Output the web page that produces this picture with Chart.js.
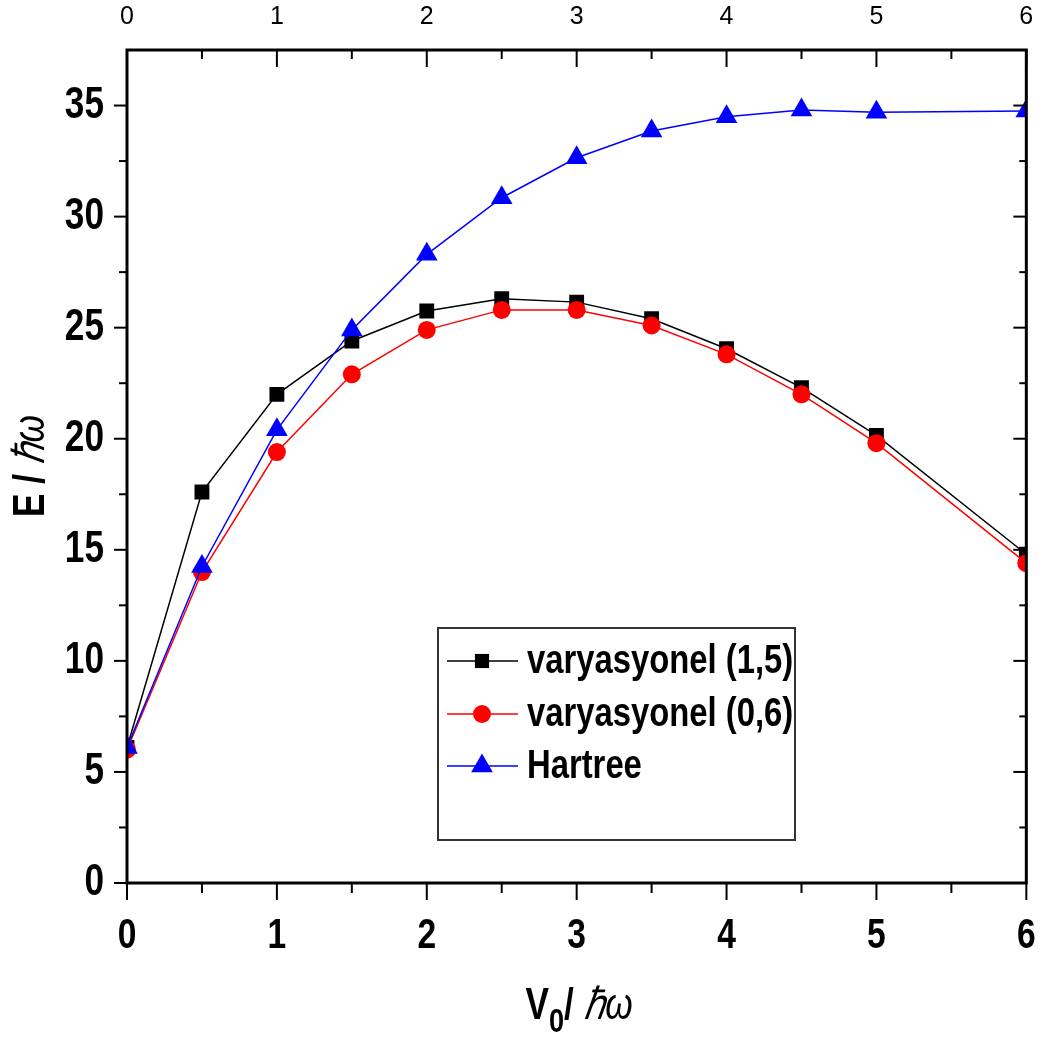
<!DOCTYPE html>
<html>
<head>
<meta charset="utf-8">
<script src="https://cdn.jsdelivr.net/npm/chart.js@4.4.1/dist/chart.umd.min.js"></script>
<style>
html,body{margin:0;padding:0;background:#fff;}
#wrap{width:1058px;height:1044px;position:relative;}
</style>
</head>
<body>
<div id="wrap"><canvas id="c" width="1058" height="1044"></canvas></div>
<script>
// ---------- data ----------
const xValues = [0, 0.5, 1, 1.5, 2, 2.5, 3, 3.5, 4, 4.5, 5, 6];
const var15   = [6.1, 17.6, 22.0, 24.4, 25.75, 26.3, 26.15, 25.4, 24.05, 22.3, 20.15, 14.8];
const var06   = [6.0, 14.0, 19.4, 22.9, 24.9, 25.8, 25.8, 25.1, 23.8, 22.0, 19.8, 14.4];
const hartree = [6.1, 14.25, 20.4, 24.9, 28.3, 30.85, 32.65, 33.85, 34.5, 34.8, 34.7, 34.75];
const seriesNames = ['varyasyonel (1,5)', 'varyasyonel (0,6)', 'Hartree'];
const xTickValues = [0, 0.5, 1, 1.5, 2, 2.5, 3, 3.5, 4, 4.5, 5, 5.5, 6];
const yTickValues = [0, 2.5, 5, 7.5, 10, 12.5, 15, 17.5, 20, 22.5, 25, 27.5, 30, 32.5, 35];
const xTitleMain = 'V', xTitleSub = '0', titleUnit = 'ℏω', yTitleMain = 'E';

const FAM = '"Liberation Sans", Arial, sans-serif';
const SQUEEZE = 0.8;   // emulate a narrow face

const pts = arr => xValues.map((x, i) => ({x: x, y: arr[i]}));
const majorLabel = v => Number.isInteger(v) ? String(v) : '';
const isMajorY = v => Math.abs(v / 5 - Math.round(v / 5)) < 1e-9;

// squeeze bold tick labels horizontally (still drawn by Chart.js)
const narrow = {
  id: 'narrow',
  beforeDraw(chart) {
    const ctx = chart.ctx;
    ['x', 'y'].forEach(id => {
      const s = chart.scales[id];
      if (!s || !s.getLabelItems) return;
      s.getLabelItems().forEach(it => {
        if (!it.label) return;
        ctx.save();
        ctx.font = (it.font && it.font.string) || Chart.helpers.toFont(s.options.ticks.font).string;
        it.options.maxWidth = ctx.measureText(String(it.label)).width * SQUEEZE;
        ctx.restore();
      });
    });
  }
};

// ---------- decorations plugin ----------
const deco = {
  id: 'deco',
  afterDraw(chart) {
    const {ctx, chartArea: a, scales} = chart;
    ctx.save();
    ctx.strokeStyle = '#000';
    ctx.lineCap = 'butt';
    const line = (x1, y1, x2, y2) => { ctx.beginPath(); ctx.moveTo(x1, y1); ctx.lineTo(x2, y2); ctx.stroke(); };
    ctx.lineWidth = 2;
    scales.x.ticks.forEach(t => {
      const px = scales.x.getPixelForValue(t.value);
      const maj = Number.isInteger(t.value);
      line(px, a.bottom, px, a.bottom + (maj ? 17 : 10));
    });
    scales.xTop.ticks.forEach(t => {
      const px = scales.xTop.getPixelForValue(t.value);
      const maj = Number.isInteger(t.value);
      line(px, a.top, px, a.top + (maj ? 17 : 9));
    });
    scales.y.ticks.forEach(t => {
      const py = scales.y.getPixelForValue(t.value);
      const maj = isMajorY(t.value);
      line(a.left - (maj ? 13 : 8), py, a.left, py);
      line(a.right, py, a.right - (maj ? 13 : 7), py);
    });
    ctx.lineWidth = 3;
    ctx.strokeRect(a.left, a.top, a.right - a.left, a.bottom - a.top);

    const sq = (txt, font) => { ctx.font = font; return ctx.measureText(txt).width * SQUEEZE; };
    const put = (txt, font, x, y) => { ctx.font = font; const w = ctx.measureText(txt).width * SQUEEZE; ctx.fillText(txt, x, y, w); return w; };

    // legend box
    const lx = 438, ly = 628, lw = 357, lh = 212;
    ctx.lineWidth = 2;
    ctx.strokeStyle = '#333';
    ctx.strokeRect(lx, ly, lw, lh);
    const rows = [661, 714, 766];
    chart.data.datasets.forEach((ds, i) => {
      const y = rows[i];
      ctx.strokeStyle = ds.borderColor;
      ctx.lineWidth = 1.5;
      line(447, y, 518, y);
      ctx.fillStyle = ds.backgroundColor;
      Chart.helpers.drawPoint(ctx, {pointStyle: ds.pointStyle, radius: ds.legendRadius, borderWidth: 0, rotation: 0}, 482, y);
      ctx.fillStyle = '#000';
      ctx.textBaseline = 'middle';
      ctx.textAlign = 'left';
      ctx.font = 'bold 40px ' + FAM;
      ctx.fillText(ds.label, 527, y + 1, ctx.measureText(ds.label).width * 0.82);
    });

    // y title (rotated)
    ctx.fillStyle = '#000';
    const f1 = 'bold 44px ' + FAM, f2 = 'italic 44px ' + FAM, fs = 'bold 34px ' + FAM;
    ctx.save();
    ctx.translate(29, 466);
    ctx.rotate(-Math.PI / 2);
    ctx.textBaseline = 'alphabetic'; ctx.textAlign = 'left';
    const wE = sq(yTitleMain + ' / ', f1), wU = sq(titleUnit, f2);
    let sx = -(wE + wU) / 2;
    put(yTitleMain + ' / ', f1, sx, 15);
    put(titleUnit, f2, sx + wE, 15);
    ctx.restore();

    // x title with subscript
    ctx.save();
    ctx.textBaseline = 'alphabetic'; ctx.textAlign = 'left';
    const wV = sq(xTitleMain, f1), w0 = sq(xTitleSub, fs), wS = sq('/ ', f1), wU2 = sq(titleUnit, f2);
    let x = 579 - (wV + w0 + wS + wU2) / 2; const base = 1019;
    put(xTitleMain, f1, x, base); x += wV;
    put(xTitleSub, fs, x, base + 13); x += w0;
    put('/ ', f1, x, base); x += wS;
    put(titleUnit, f2, x, base);
    ctx.restore();

    ctx.restore();
  }
};

const ds = (label, arr, color, style, r, lr, order) => ({
  label: label, data: pts(arr), borderColor: color, backgroundColor: color,
  borderWidth: 1.5, pointStyle: style, pointRadius: r, pointHoverRadius: r,
  pointBorderWidth: 0, tension: 0, order: order, clip: 0, legendRadius: lr,
  xAxisID: 'x', yAxisID: 'y'
});

new Chart(document.getElementById('c'), {
  type: 'line',
  data: {
    datasets: [
      ds(seriesNames[0], var15, '#000000', 'rect', 10.5, 10, 2),
      ds(seriesNames[1], var06, '#ff0000', 'circle', 9, 9, 1),
      ds(seriesNames[2], hartree, '#0000ff', 'triangle', 12.5, 12.5, 0)
    ]
  },
  options: {
    responsive: false,
    animation: false,
    devicePixelRatio: 1,
    layout: {padding: {left: 0, right: 31, top: 0, bottom: 0}},
    plugins: {legend: {display: false}, tooltip: {enabled: false}},
    scales: {
      x: {
        type: 'linear', position: 'bottom', min: 0, max: 6,
        afterBuildTicks: s => { s.ticks = xTickValues.map(v => ({value: v})); },
        afterFit: s => { s.height = 161; },
        grid: {display: false}, border: {display: false},
        ticks: {autoSkip: false, maxRotation: 0, padding: 20, color: '#000',
          font: {family: FAM, size: 42, weight: 'bold'}, callback: majorLabel}
      },
      xTop: {
        type: 'linear', position: 'top', min: 0, max: 6,
        afterBuildTicks: s => { s.ticks = xTickValues.map(v => ({value: v})); },
        afterFit: s => { s.height = 50; },
        grid: {display: false}, border: {display: false},
        ticks: {autoSkip: false, maxRotation: 0, padding: 10, color: '#000',
          font: {family: FAM, size: 25, weight: 'normal'}, callback: majorLabel}
      },
      y: {
        type: 'linear', position: 'left', min: 0, max: 37.5,
        afterBuildTicks: s => { s.ticks = yTickValues.map(v => ({value: v})); },
        afterFit: s => { s.width = 127; },
        grid: {display: false}, border: {display: false},
        ticks: {autoSkip: false, padding: 15, color: '#000',
          font: {family: FAM, size: 44, weight: 'bold'},
          callback: v => isMajorY(v) ? String(v) : ''}
      }
    }
  },
  plugins: [narrow, deco]
});
</script>
</body>
</html>
